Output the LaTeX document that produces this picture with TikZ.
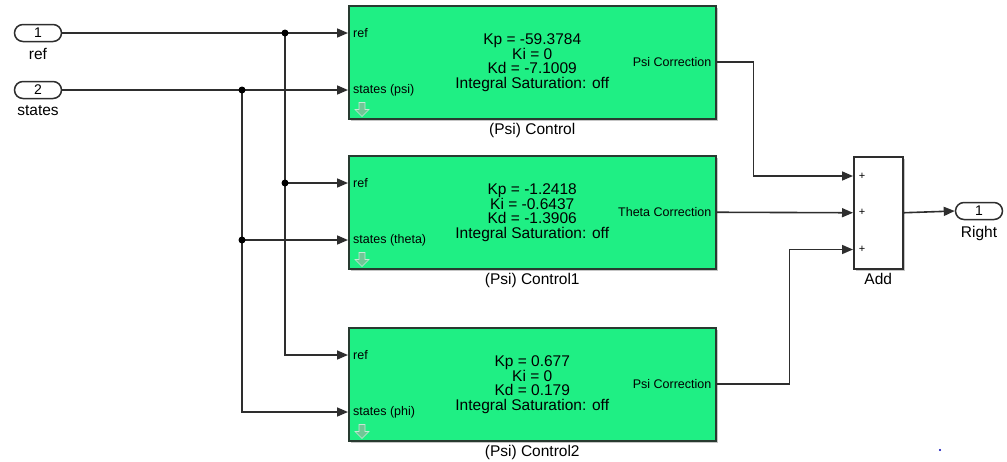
\documentclass[tikz,border=0pt]{standalone}
\usepackage{fontspec}
\setmainfont{Liberation Sans}
\usepackage{tikz}
\usetikzlibrary{arrows.meta,calc,positioning,shapes.misc,shadows}
\definecolor{wire}{HTML}{2E2E2E}
\definecolor{pidgreen}{HTML}{1FEF84}
\definecolor{edge}{HTML}{283A30}
\definecolor{shade}{HTML}{8C8C8C}
\definecolor{icon}{HTML}{6FC896}
\tikzset{sig/.style={-{Triangle[length=11pt,width=9pt]},draw=wire,line width=1.6pt},pid/.style={draw=edge,line width=1.5pt,fill=pidgreen,minimum width=367pt,minimum height=113pt,inner sep=0pt,anchor=north west,align=center,font=\fontsize{15.5}{14.3}\selectfont,drop shadow={shadow xshift=2pt,shadow yshift=-2pt,fill=shade}},ioport/.style={rounded rectangle,draw=wire,line width=1.5pt,fill=white,minimum width=47pt,minimum height=17pt,inner sep=0pt,font=\fontsize{14}{14}\selectfont},blocklbl/.style={font=\fontsize{15.5}{16}\selectfont,inner sep=1pt},pintxt/.style={font=\fontsize{12.5}{12.5}\selectfont,inner sep=0pt},junction/.style={fill=black,circle,inner sep=0pt,minimum size=7pt}}

\begin{document}
\begin{tikzpicture}[x=1pt,y=-1pt]
 \useasboundingbox (0,0) rectangle (1007,461);
 % inports and outport
 \node[ioport] (ref) at (38,33) {1}; \node[blocklbl,below=5pt of ref] (reflbl) {ref};
 \node[ioport] (states) at (38,90) {2}; \node[blocklbl,below=5pt of states] (stateslbl) {states};
 % PID blocks
 \node[pid] (psi) at (348,5) {Kp = -59.3784\\Ki = 0\\Kd = -7.1009\\Integral Saturation: off};
 \node[pid] (theta) at (348,155) {Kp = -1.2418\\Ki = -0.6437\\Kd = -1.3906\\Integral Saturation: off};
 \node[pid] (phi) at (348,327) {Kp = 0.677\\Ki = 0\\Kd = 0.179\\Integral Saturation: off};
 \node[blocklbl,below=3pt of psi] (psilbl) {(Psi) Control};
 \node[blocklbl,below=3pt of theta] (thetalbl) {(Psi) Control1};
 \node[blocklbl,below=3pt of phi] (philbl) {(Psi) Control2};
 \foreach \b/\s/\o in {psi/psi/Psi Correction,theta/theta/Theta Correction,phi/phi/Psi Correction}{
  \coordinate (\b-ref) at ($(\b.north west)+(0,28)$);
  \coordinate (\b-st) at ($(\b.north west)+(0,85)$);
  \node[pintxt,anchor=west] at ($(\b-ref)+(5,0)$) {ref};
  \node[pintxt,anchor=west] at ($(\b-st)+(5,0)$) {states (\s)};
  \node[pintxt,anchor=east] at ($(\b.east)+(-5,0)$) {\o};
  \fill[icon,draw=white!60!icon,line width=.6pt] ($(\b.south west)+(14,-3)$) -- ++(-7,-7) -- ++(4,0) -- ++(0,-7) -- ++(6,0) -- ++(0,7) -- ++(4,0) -- cycle;
 }
 % sum block
 \node[draw=wire,line width=1.5pt,fill=white,minimum width=49pt,minimum height=112pt,anchor=north west,drop shadow={shadow xshift=2pt,shadow yshift=-2pt,fill=shade}] (add) at (853,156) {};
 \node[blocklbl,below=3pt of add] (addlbl) {Add};
 \coordinate (add-a) at ($(add.north west)+(0,20)$);
 \coordinate (add-b) at (add.west);
 \coordinate (add-c) at ($(add.south west)+(0,-20)$);
 \foreach \c in {add-a,add-b,add-c} \node[pintxt,font=\fontsize{11}{11}\selectfont] at ($(\c)+(9,0)$) {+};
 \node[ioport] (right) at (979,211) {1}; \node[blocklbl,below=5pt of right] (rightlbl) {Right};
 % wiring
 \coordinate (jref) at (285,33); \coordinate (jst) at (242,90);
 \draw[sig] (ref.east) -- (psi-ref);
 \draw[sig] (states.east) -- (psi-st);
 \draw[sig] (jref) |- (phi-ref);
 \draw[sig] (jref |- theta-ref) -- (theta-ref);
 \draw[sig] (jst) |- (phi-st);
 \draw[sig] (jst |- theta-st) -- (theta-st);
 \foreach \j in {jref,jst} \node[junction] at (\j) {};
 \node[junction] at (jref |- theta-ref) {}; \node[junction] at (jst |- theta-st) {};
 \draw[sig] (psi.east) -- ++(37,0) |- (add-a);
 \draw[sig] (theta.east) -- (add-b);
 \draw[sig] (phi.east) -- ++(73,0) |- (add-c);
 \draw[sig] (add.east) -- (right.west);
 \fill[blue!70!black] (940,450) circle (1.2pt);
\end{tikzpicture}
\end{document}
